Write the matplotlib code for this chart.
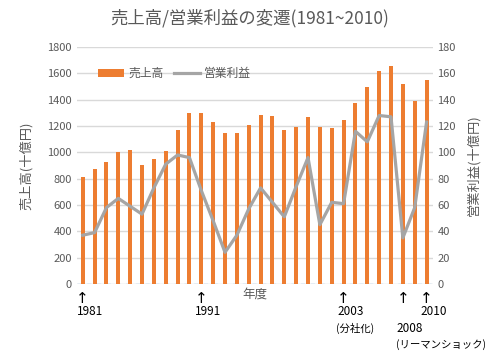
import numpy as np
import matplotlib
matplotlib.use("Agg")
import matplotlib.pyplot as plt

plt.rcParams['font.family'] = ['Noto Sans CJK JP', 'DejaVu Sans']

## データ (十億円)
years = list(range(1981, 2011))
uriage = [810, 870, 930, 1000, 1020, 900, 950, 1010, 1170, 1300,
          1300, 1230, 1150, 1150, 1207, 1285, 1278, 1171, 1192, 1268,
          1192, 1186, 1247, 1374, 1496, 1620, 1658, 1519, 1387, 1551]
eigyo = [37, 39, 58, 65, 59, 53, 73, 91, 98, 96,
         71, 48, 24, 37, 57, 73, 62, 51, 74, 96,
         45, 62, 61, 116, 108, 128, 127, 35, 58, 123]
yticks_l = [0, 200, 400, 600, 800, 1000, 1200, 1400, 1600, 1800]
yticks_r = [0, 20, 40, 60, 80, 100, 120, 140, 160, 180]
notes = [(1981, '1981', ''), (1991, '1991', ''), (2003, '2003', '(分社化)'),
         (2008, '2008', '(リーマンショック)'), (2010, '2010', '')]

gris = '#595959'
fig = plt.figure(figsize=(5.0, 3.54), dpi=100)
ax = fig.add_axes([0.1536, 0.198, 0.7114, 0.669])
ax2 = ax.twinx()

ax.bar(years, uriage, width=0.33, color='#ED7D31', zorder=3, label='売上高')
ax2.plot(years, eigyo, color='#A5A5A5', lw=2.3, zorder=4, label='営業利益')

ax.set_xlim(1980.5, 2010.5)
ax.set_ylim(0, 1800)
ax2.set_ylim(0, 180)
ax.set_yticks(yticks_l)
ax2.set_yticks(yticks_r)
ax.set_xticks([])
ax.grid(axis='y', color='#d9d9d9', lw=1, zorder=0)
ax.axhline(0, color='#9dc3e6', lw=1, ls=(0, (3, 4)), zorder=2)
for a in (ax, ax2):
    for s in a.spines.values():
        s.set_visible(False)
    a.tick_params(axis='y', length=0, labelsize=8, labelcolor=gris)

ax.set_ylabel('売上高(十億円)', color=gris, fontsize=9.5, labelpad=10)
ax2.set_ylabel('営業利益(十億円)', color=gris, fontsize=9.5, labelpad=8)
ax.set_xlabel('年度', color=gris, fontsize=9, labelpad=3)
fig.suptitle('売上高/営業利益の変遷(1981~2010)', color=gris, fontsize=12.5, y=0.975)

h1, l1 = ax.get_legend_handles_labels()
h2, l2 = ax2.get_legend_handles_labels()
ax.legend(h1 + h2, l1 + l2, ncol=2, frameon=False, fontsize=8.5,
          labelcolor=gris, loc='upper left', bbox_to_anchor=(0.03, 0.96),
          handlelength=2.2, columnspacing=0.9, handletextpad=0.35)

## 注記 (矢印と年)
trans = ax.get_xaxis_transform()
for yr, lab, sub in notes:
    ax.text(yr, -0.03, '↑', transform=trans, ha='center', va='top',
            fontsize=11, color='black', family='DejaVu Sans', clip_on=False)
    yl = -0.09 if yr != 2008 else -0.16
    ax.text(yr - 0.5, yl, lab, transform=trans, ha='left', va='top',
            fontsize=8.5, color='black', clip_on=False)
    if sub:
        ax.text(yr - 0.6, yl - 0.075, sub, transform=trans, ha='left', va='top',
                fontsize=7.5, color='black', clip_on=False)

fig.savefig('out.png', dpi=100)
